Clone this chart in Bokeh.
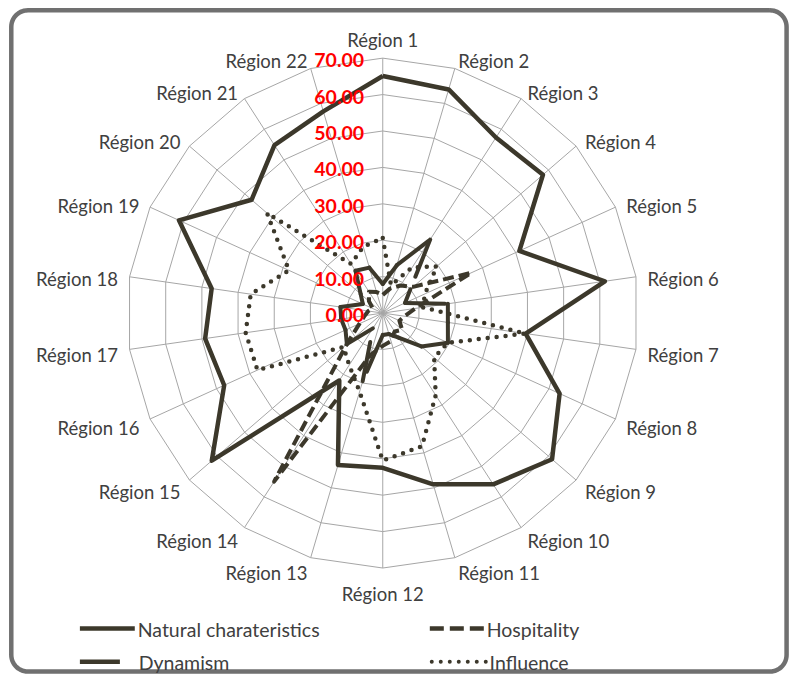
import numpy as np
from bokeh.plotting import figure
from bokeh.models import Range1d
from bokeh.core.properties import value
from bokeh.embed import file_html
from bokeh.resources import INLINE

# ---------------- data ----------------
regions = ["Région %d" % i for i in range(1, 23)]
natural = [65.1, 64.0, 57.3, 58.0, 41.1, 61.4, 39.5, 53.2, 61.3, 55.9, 49.0,
           42.5, 43.5, 22.0, 61.9, 47.7, 49.1, 47.3, 61.3, 47.5, 54.8, 57.7]
dynamism = [8.0, 13.7, 24.0, 10.0, 6.7, 18.0, 18.0, 19.6, 14.0, 8.0, 6.0,
            6.0, 19.5, 5.0, 13.0, 11.2, 11.5, 11.7, 6.0, 8.0, 13.8, 13.0]
hospitality = [5.0, 7.0, 9.0, 11.0, 26.6, 9.0, 6.0, 5.0, 7.0, 6.0, 8.0,
               9.0, 12.0, 55.0, 13.0, 7.0, 5.0, 4.0, 3.0, 5.0, 7.0, 6.0]
influence = [20.6, 8.0, 14.9, 19.6, 12.7, 11.1, 39.5, 19.6, 18.6, 26.8, 38.1,
             40.5, 22.5, 17.0, 14.2, 37.7, 37.9, 36.5, 28.2, 41.9, 16.0, 19.0]
tick_values = [0, 10, 20, 30, 40, 50, 60, 70]
tick_labels = ["0.00", "10.00", "20.00", "30.00", "40.00", "50.00", "60.00", "70.00"]
legend_names = ["Natural charateristics", "Dynamism", "Hospitality", "Influence"]

# ---------------- geometry (drawing units 806 x 690) ----------------
W, H = 790, 674
UW, UH = 806.0, 690.0
cx, cy = 390.0, 320.0
rmax = 261.0
vmax = 70.0
s = rmax / vmax
n = len(regions)
theta = np.arange(n) * 2 * np.pi / n
sn, cs = np.sin(theta), np.cos(theta)

def pts(vals, close=True):
    v = np.asarray(vals, dtype=float)
    x = cx + v * s * sn
    y = cy - v * s * cs
    if close:
        x = np.append(x, x[0]); y = np.append(y, y[0])
    return x, y

p = figure(width=W, height=H, x_range=Range1d(0, UW), y_range=Range1d(UH, 0),
           output_backend="svg", toolbar_location=None, min_border=0)
p.axis.visible = False
p.grid.visible = False
p.outline_line_color = None
p.background_fill_color = "white"
p.border_fill_color = "white"

# rounded frame
L, T, R, B, rad = 11.0, 10.0, 802.0, 687.0, 17.0
fx, fy = [], []
for (ccx, ccy, a0) in [(R - rad, T + rad, -90), (R - rad, B - rad, 0), (L + rad, B - rad, 90), (L + rad, T + rad, 180)]:
    a = np.radians(np.linspace(a0, a0 + 90, 14))
    fx += list(ccx + rad * np.cos(a)); fy += list(ccy + rad * np.sin(a))
fx.append(fx[0]); fy.append(fy[0])
p.line(fx, fy, line_color="#707070", line_width=4.5)

grid_col = "#a6a6a6"
# rings
xs, ys = [], []
for t in tick_values[1:]:
    gx, gy = pts([t] * n)
    xs.append(list(gx)); ys.append(list(gy))
p.multi_line(xs, ys, line_color=grid_col, line_width=1)
# spokes
ox, oy = pts([vmax] * n, close=False)
p.segment(x0=[cx] * n, y0=[cy] * n, x1=ox, y1=oy, line_color=grid_col, line_width=1)

col = "#3c382b"
# influence (dotted)
ix, iy = pts(influence)
p.line(ix, iy, line_color=col, line_width=4.5, line_dash="0 9", line_cap="round")
# hospitality (dash)
hx, hy = pts(hospitality)
p.line(hx, hy, line_color=col, line_width=4, line_dash="11 5", line_join="round")
# dynamism (long dash, restarting per segment)
dx, dy = pts(dynamism)
p.segment(x0=dx[:-1], y0=dy[:-1], x1=dx[1:], y1=dy[1:], line_color=col,
          line_width=4, line_dash="40 15", line_cap="round")
# natural (solid)
nx, ny = pts(natural)
p.line(nx, ny, line_color=col, line_width=4.5, line_join="round")

# value labels (red)
p.text(x=[cx - 19] * len(tick_values), y=[cy - v * s + 2 for v in tick_values], text=tick_labels,
       text_align="right", text_baseline="middle", text_color="#ff0000",
       text_font=value("Lato"), text_font_style="bold", text_font_size="19.5px")

# region labels
lab_r = rmax + 12
lx = cx + lab_r * sn
ly = cy - lab_r * cs + 4
for align in ["left", "right", "center"]:
    idx = [i for i in range(n) if (align == "left" and sn[i] > 0.05) or
           (align == "right" and sn[i] < -0.05) or (align == "center" and abs(sn[i]) <= 0.05)]
    yy = [ly[i] - (11 * cs[i] if align == "center" else 0) for i in idx]
    p.text(x=[lx[i] for i in idx], y=yy, text=[regions[i] for i in idx],
           text_align=align, text_baseline="middle", text_color="#404040",
           text_font=value("Lato"), text_font_size="18.5px")

# legend
ly1, ly2 = 643.0, 677.0
p.segment(x0=[81], y0=[ly1], x1=[137], y1=[ly1], line_color=col, line_width=4.5)
p.segment(x0=[81], y0=[ly2], x1=[136], y1=[ly2], line_color=col, line_width=4.5, line_dash="40 15")
p.segment(x0=[438], y0=[ly1], x1=[494], y1=[ly1], line_color=col, line_width=4.5, line_dash="14 6")
p.segment(x0=[440], y0=[ly2], x1=[496], y1=[ly2], line_color=col, line_width=4, line_dash="0 9", line_cap="round")
p.text(x=[140, 141, 496, 499], y=[ly1 + 1, ly2 + 1, ly1 + 1, ly2 + 1], text=legend_names,
       text_align="left", text_baseline="middle", text_color="#404040",
       text_font=value("Lato"), text_font_size="19.5px")

open("out.html", "w").write(file_html(p, INLINE))
